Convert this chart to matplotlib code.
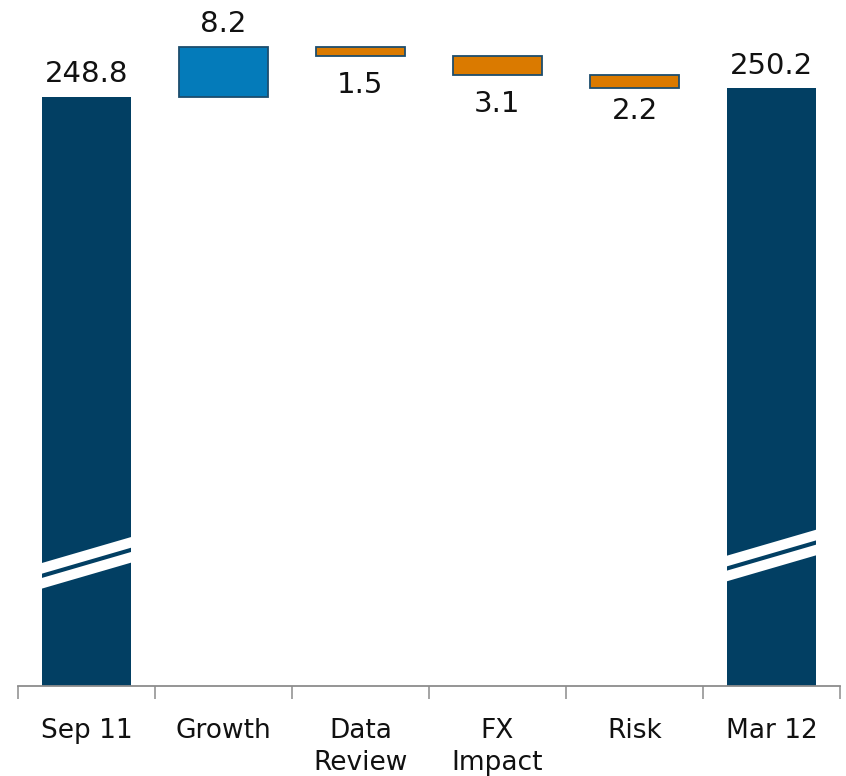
import matplotlib
matplotlib.use("Agg")
import matplotlib.pyplot as plt
from matplotlib.patches import Polygon
import numpy as np

# Waterfall data
categories = ["Sep 11", "Growth", "Data\nReview", "FX\nImpact", "Risk", "Mar 12"]
start_total = 248.8
changes = [8.2, -1.5, -3.1, -2.2]
end_total = 250.2

# Visible range of the broken value axis
y_low, y_high = 152.2, 264.7

navy = "#023f63"
blue = "#047bba"
orange = "#da7a00"
edge = "#1d4d6d"
grey = "#8c8c8c"

plt.rcParams["font.family"] = ["DejaVu Sans"]

fig = plt.figure(figsize=(8.46, 7.76), dpi=100)
ax = fig.add_axes([18 / 846, 90 / 776, 822 / 846, 686 / 776])

x = np.arange(len(categories))
width = 0.645

# Totals
ax.bar(x[0], start_total - y_low, bottom=y_low, width=width, color=navy, zorder=2)
ax.bar(x[-1], end_total - y_low, bottom=y_low, width=width, color=navy, zorder=2)

# Floating steps
running = start_total
step_info = []
for i, d in enumerate(changes, start=1):
    lo = min(running, running + d)
    ax.bar(x[i], abs(d), bottom=lo, width=width,
           color=blue if d > 0 else orange, edgecolor=edge, linewidth=1.3, zorder=2)
    step_info.append((x[i], running, running + d, d))
    running += d

# Value labels (offsets in points)
below_offset = {1: -11, 2: -11, 3: -11, 4: -6.5}
lab_kw = dict(ha="center", fontsize=21, color="#111111", textcoords="offset points")
ax.annotate(f"{start_total:.1f}", (x[0], start_total), xytext=(0, 10.5), va="baseline", **lab_kw)
ax.annotate(f"{end_total:.1f}", (x[-1], end_total), xytext=(0, 10.5), va="baseline", **lab_kw)
for xi, a, b, d in step_info:
    if d > 0:
        ax.annotate(f"{abs(d):.1f}", (xi, max(a, b)), xytext=(0, 10.5), va="baseline", **lab_kw)
    else:
        ax.annotate(f"{abs(d):.1f}", (xi, min(a, b)), xytext=(0, below_offset[xi]),
                    va="top", **lab_kw)

# Axis-break marks across the total bars (two white slanted bands)
def draw_break(xc, centre, rise=4.35, band=1.75, gap=2.45):
    x0, x1 = xc - width / 2 - 0.01, xc + width / 2 + 0.01
    for off in (gap / 2, -gap / 2):
        yl = centre - rise / 2 + off
        yr = centre + rise / 2 + off
        poly = Polygon([(x0, yl - band / 2), (x1, yr - band / 2),
                        (x1, yr + band / 2), (x0, yl + band / 2)],
                       closed=True, facecolor="white", edgecolor="none", zorder=3)
        ax.add_patch(poly)

draw_break(x[0], 172.4)
draw_break(x[-1], 173.6)

ax.set_xlim(-0.5, len(categories) - 0.5)
ax.set_ylim(y_low, y_high)

for s in ("top", "right", "left"):
    ax.spines[s].set_visible(False)
ax.spines["bottom"].set_color(grey)
ax.spines["bottom"].set_linewidth(1.3)
ax.set_yticks([])

ax.set_xticks(x)
ax.set_xticklabels(categories, fontsize=19, color="#111111", linespacing=1.3)
ax.set_xticks(np.arange(-0.5, len(categories)), minor=True)
ax.tick_params(axis="x", which="major", length=0, pad=23)
ax.tick_params(axis="x", which="minor", length=9, width=1.1, color=grey)

fig.savefig("out.png", dpi=100)
